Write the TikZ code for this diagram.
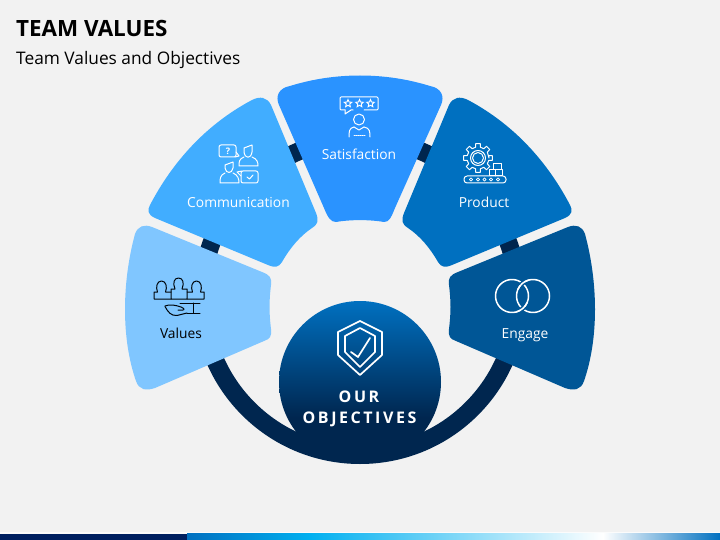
\documentclass[tikz,border=0pt]{standalone}
\usepackage{fontspec}
\setmainfont{Open Sans}
\usetikzlibrary{shapes.geometric}
\definecolor{bgc}{HTML}{F2F2F2}
\definecolor{navyc}{HTML}{00264F}
\definecolor{valc}{HTML}{80C6FF}
\definecolor{comc}{HTML}{41ADFF}
\definecolor{satc}{HTML}{2A93FF}
\definecolor{proc}{HTML}{0070C0}
\definecolor{engc}{HTML}{005696}
\definecolor{barn}{HTML}{002060}
\definecolor{barb}{HTML}{00B0F0}
\pgfdeclareverticalshading{circshade}{100bp}{color(0bp)=(navyc);color(39bp)=(navyc);color(75bp)=(proc);color(100bp)=(proc)}
\pgfdeclarehorizontalshading{barshade}{100bp}{color(0bp)=(proc);color(25bp)=(proc);color(36.5bp)=(barb);color(64bp)=(white);color(75bp)=(proc);color(100bp)=(proc)}
\tikzset{
 wicon/.style={draw=white,line width=1pt,line join=round,line cap=round},
 dicon/.style={draw=black!85!navyc,line width=1pt,line join=round,line cap=round},
 lab/.style={text=white,font=\fontsize{13.8}{16}\selectfont,inner sep=0pt},
 caps/.style={text=white,inner sep=0pt,font=\bfseries\fontsize{16}{18}\selectfont\addfontfeatures{LetterSpace=16}},
 starry/.style={star,star points=5,star point ratio=2.2,draw=white,line width=.9pt,inner sep=0pt,minimum size=8}
}
\begin{document}
\begin{tikzpicture}[x=1pt,y=-1pt]
\path[use as bounding box,fill=bgc] (0,0) rectangle (720,540);
% bottom bar
\fill[white!70!bgc] (0,532) rectangle (720,533.5);
\fill[barn] (0,533.5) rectangle (187,540);
\path[shading=barshade] (187,533.5) rectangle (720,540);
% ring
\draw[navyc,line width=18pt] (360,297) circle[radius=158];
% centre circle
\path[shading=circshade] (360,382) circle[radius=81];
% segments
\fill[satc] (290,86) .. controls (335,72) and (385,72) .. (430,86)
 .. controls (441,88) and (445,96) .. (441,105) -- (395,208)
 .. controls (391,218) and (389,222) .. (384,222)
 .. controls (370,219.5) and (350,219.5) .. (336,222)
 .. controls (331,222) and (328,218) .. (324,208) -- (279,105)
 .. controls (275,96) and (279,88) .. (290,86) -- cycle;
\fill[comc] (252,100) .. controls (260,96) and (267,97) .. (271,105) -- (316,213)
 .. controls (319,221) and (318,224) .. (312,228)
 .. controls (300,236) and (290,248) .. (282,262)
 .. controls (279,267) and (275,268) .. (268,265) -- (155,218)
 .. controls (148,215) and (147,210) .. (150,205)
 .. controls (172,163) and (205,125) .. (252,100) -- cycle;
\fill[proc] (468,100) .. controls (460,96) and (453,97) .. (449,105) -- (404,213)
 .. controls (401,221) and (402,224) .. (408,228)
 .. controls (420,236) and (430,248) .. (438,262)
 .. controls (441,267) and (445,268) .. (452,265) -- (565,218)
 .. controls (572,215) and (573,210) .. (570,205)
 .. controls (548,163) and (515,125) .. (468,100) -- cycle;
\fill[valc] (152,227) -- (262,272) .. controls (270,275) and (272,278) .. (271,285)
 .. controls (269,302) and (269,312) .. (271,329)
 .. controls (272,336) and (270,339) .. (264,341) -- (155,388)
 .. controls (146,391) and (139,390) .. (136,381)
 .. controls (121,338) and (122,282) .. (135,234)
 .. controls (138,226) and (144,224) .. (152,227) -- cycle;
\fill[engc] (568,227) -- (458,272) .. controls (450,275) and (448,278) .. (449,285)
 .. controls (451,302) and (451,312) .. (449,329)
 .. controls (448,336) and (450,339) .. (456,341) -- (565,388)
 .. controls (574,391) and (581,390) .. (584,381)
 .. controls (599,338) and (598,282) .. (585,234)
 .. controls (582,226) and (576,224) .. (568,227) -- cycle;
% title
\node[anchor=west,inner sep=0pt,font=\bfseries\fontsize{22.4}{24}\selectfont] (title) at (16,29) {TEAM VALUES};
\node[anchor=west,inner sep=0pt,font=\fontsize{17.3}{20}\selectfont] (subtitle) at (16,60) {Team Values and Objectives};
% labels
\node[lab] (lsat) at (359,154) {Satisfaction};
\node[lab] (lcom) at (238.5,202.5) {Communication};
\node[lab] (lpro) at (484,202.5) {Product};
\node[lab,text=black] (lval) at (181,333) {Values};
\node[lab] (leng) at (525,335) {Engage};
\node[caps] (lour) at (359,396.5) {OUR};
\node[caps] (lobj) at (359.5,419) {OBJECTIVES};
% shield icon
\draw[wicon,line width=1.7pt] (360,321) -- (382,332) -- (382,355) -- (360,375) -- (338,355) -- (338,332) -- cycle;
\draw[wicon,line width=1.7pt] (360,328) -- (375,336) -- (375,352) -- (360,367) -- (345,352) -- (345,336) -- cycle;
\draw[wicon,line width=1.7pt] (351,352) -- (358,357) -- (370,338);
% engage rings
\draw[wicon,line width=1.5pt] (512,296) circle[radius=16.5];
\draw[wicon,line width=1.5pt] (533,296) circle[radius=16.5];
\draw[engc,line width=4.5pt] (533,296) ++(220:16.5) arc[start angle=220,end angle=240,radius=16.5];
\draw[wicon,line width=1.5pt] (533,296) ++(205:16.5) arc[start angle=205,end angle=255,radius=16.5];
\draw[engc,line width=4.5pt] (512,296) ++(40:16.5) arc[start angle=40,end angle=60,radius=16.5];
\draw[wicon,line width=1.5pt] (512,296) ++(25:16.5) arc[start angle=25,end angle=75,radius=16.5];
% values icon
\begin{scope}[dicon]
\draw (171,299) -- (171,289) -- (175,289) .. controls (172.5,283) and (174,278) .. (178.5,278) .. controls (183,278) and (184.5,283) .. (182,289) -- (187,289) -- (187,299) -- cycle;
\draw (171,292) -- (165.5,292) .. controls (167.5,287) and (166,281) .. (161.5,281) .. controls (157,281) and (155.5,287) .. (157.5,292) -- (154,292) -- (154,299) -- (171,299);
\draw (187,292) -- (192.5,292) .. controls (190.5,287) and (192,281) .. (196.5,281) .. controls (201,281) and (202.5,287) .. (200.5,292) -- (204,292) -- (204,299) -- (187,299);
\draw (180,303) -- (200,303);
\draw (193,303) -- (193,313);
\draw (187,313) -- (200,313);
\draw (165,306) .. controls (170,304) and (175,305) .. (181,307) .. controls (186,309) and (185,311) .. (178,310);
\draw (165,306.5) .. controls (168,312) and (171,316) .. (177,315.5) -- (187,313);
\end{scope}
% communication icon
\begin{scope}[wicon]
\draw[rounded corners=2pt] (219,145) rectangle (236,157);
\draw (236,152) -- (239,156) -- (235,157);
\draw (244,148) -- (252,145) -- (252,152) .. controls (251,159) and (245,159) .. (244,152) -- cycle;
\draw (244,157) .. controls (239,159) and (239,162) .. (239,166) -- (258,166) .. controls (258,162) and (257,159) .. (252,157);
\draw (225,165) -- (233,162) -- (233,168) .. controls (232,174) and (226,174) .. (225,168) -- cycle;
\draw (225,173) .. controls (220,175) and (220,179) .. (220,183) -- (239,183) .. controls (239,179) and (238,175) .. (233,173);
\draw[rounded corners=2pt] (241,171) rectangle (258,183);
\draw (241,176) -- (237,172) -- (242,171);
\draw (247,177) -- (249.5,179) -- (253,175);
\end{scope}
\node[text=white,inner sep=0pt,font=\bfseries\fontsize{9}{10}\selectfont] (qm) at (228,151) {?};
% satisfaction icon
\begin{scope}[wicon]
\draw[rounded corners=1pt] (345,110) -- (340,110) -- (340,97) -- (378,97) -- (378,110) -- (364,110);
\draw (345,110) -- (345,114) -- (351,110) -- (353,110);
\draw (359,119.5) circle[radius=5.5];
\draw (354,127) .. controls (349,128) and (349,132) .. (349,137);
\draw (364,127) .. controls (370,128) and (370,132) .. (370,137);
\draw (354,127) -- (359,130) -- (364,127);
\draw[densely dotted] (354,136) -- (365,136);
\end{scope}
\node[starry] (s1) at (348,103.5) {};
\node[starry] (s2) at (359.5,103.5) {};
\node[starry] (s3) at (370.5,103.5) {};
% product icon
\begin{scope}[shift={(478,158)},wicon]
\draw (0:11) \foreach \a in {0,45,...,315} { -- (\a-13:11) -- (\a-9:14.5) -- (\a+9:14.5) -- (\a+13:11)} -- cycle;
\draw (0,0) circle[radius=7.5];
\draw (0,0) circle[radius=5.5];
\end{scope}
\begin{scope}[wicon]
\draw[fill=proc] (493,163.5) rectangle (501,170);
\draw[fill=proc] (489,170) rectangle (502,176);
\draw (495.5,170) -- (495.5,176);
\draw[rounded corners=3pt] (464,176) rectangle (506,183);
\foreach \x in {471,478,484.5,491,498} \draw[line width=.8pt] (\x,179.5) circle[radius=1.6];
\end{scope}
\end{tikzpicture}
\end{document}
